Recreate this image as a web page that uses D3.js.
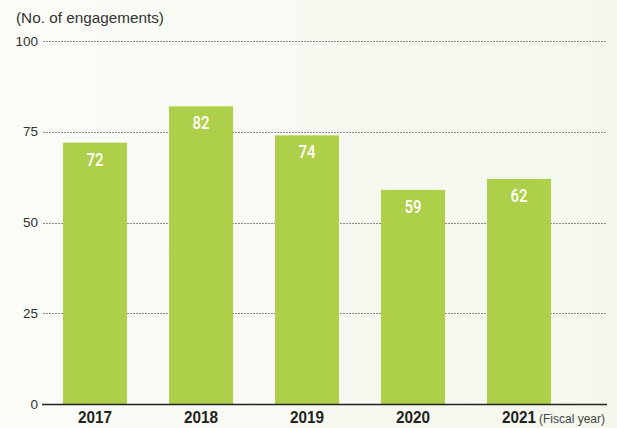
<!DOCTYPE html>
<html>
<head>
<meta charset="utf-8">
<script src="https://cdn.jsdelivr.net/npm/d3@7"></script>
<style>
  html, body { margin: 0; padding: 0; background: #f8faf3; }
  svg { display: block; }
</style>
</head>
<body>
<svg id="chart" width="617" height="428"></svg>
<script>
const years = ["2017", "2018", "2019", "2020", "2021"];
const engagements = [72, 82, 74, 59, 62];
const yTicks = [0, 25, 50, 75, 100];

const svg = d3.select("#chart");
const W = 617, H = 428;

const bg = svg.append("defs").append("linearGradient")
  .attr("id", "bg").attr("x1", 0).attr("x2", 1).attr("y1", 0).attr("y2", 0);
bg.append("stop").attr("offset", 0).attr("stop-color", "#fbfcf8");
bg.append("stop").attr("offset", 1).attr("stop-color", "#f4f7ec");
svg.append("rect").attr("width", W).attr("height", H).attr("fill", "url(#bg)");

const x = d3.scaleBand().domain(years).range([42, 572])
  .paddingInner(0.396).paddingOuter(0.198);
const y = d3.scaleLinear().domain([0, 100]).range([404, 41]);

const font = "'Liberation Sans', Arial, Helvetica, sans-serif";

// horizontal dotted gridlines
svg.append("g").selectAll("line")
  .data(yTicks.filter(t => t > 0))
  .join("line")
  .attr("x1", 43).attr("x2", 606)
  .attr("y1", d => Math.round(y(d)) + 0.5).attr("y2", d => Math.round(y(d)) + 0.5)
  .attr("stroke", "#8a8a8a").attr("stroke-width", 1)
  .attr("stroke-dasharray", "2,1");

// y tick labels
svg.append("g").selectAll("text")
  .data(yTicks)
  .join("text")
  .attr("x", 38).attr("y", d => y(d))
  .attr("dy", "0.35em")
  .attr("text-anchor", "end")
  .attr("font-family", font).attr("font-size", 13.5)
  .attr("fill", "#333")
  .text(d => d);

// bars
svg.append("g").selectAll("rect")
  .data(years.map((yr, i) => ({ yr, v: engagements[i] })))
  .join("rect")
  .attr("x", d => x(d.yr)).attr("width", x.bandwidth())
  .attr("y", d => y(d.v)).attr("height", d => y(0) - y(d.v))
  .attr("fill", "#aecf4a");

// value labels (condensed, medium weight)
svg.append("g").selectAll("text")
  .data(years.map((yr, i) => ({ yr, v: engagements[i] })))
  .join("text")
  .attr("x", d => x(d.yr) + x.bandwidth() / 2)
  .attr("y", d => y(d.v) + 23)
  .attr("text-anchor", "middle")
  .attr("font-family", "Roboto, 'Liberation Sans', sans-serif")
  .attr("font-size", 18).attr("font-weight", 500)
  .attr("textLength", 17).attr("lengthAdjust", "spacingAndGlyphs")
  .attr("fill", "#fff")
  .text(d => d.v);

// baseline
svg.append("line")
  .attr("x1", 42).attr("x2", 607)
  .attr("y1", y(0) + 0.5).attr("y2", y(0) + 0.5)
  .attr("stroke", "#222").attr("stroke-width", 1.5);

// category labels
svg.append("g").selectAll("text")
  .data(years)
  .join("text")
  .attr("x", d => x(d) + x.bandwidth() / 2)
  .attr("y", 423)
  .attr("text-anchor", "middle")
  .attr("font-family", font).attr("font-size", 16).attr("font-weight", "bold")
  .attr("textLength", 34).attr("lengthAdjust", "spacingAndGlyphs")
  .attr("fill", "#222")
  .text(d => d);

svg.append("text")
  .attr("x", 539).attr("y", 423)
  .attr("font-family", font).attr("font-size", 12)
  .attr("textLength", 66).attr("lengthAdjust", "spacingAndGlyphs")
  .attr("fill", "#444")
  .text("(Fiscal year)");

// axis title
svg.append("text")
  .attr("x", 16).attr("y", 23)
  .attr("font-family", font).attr("font-size", 15.3)
  .attr("fill", "#333")
  .text("(No. of engagements)");
</script>
</body>
</html>
